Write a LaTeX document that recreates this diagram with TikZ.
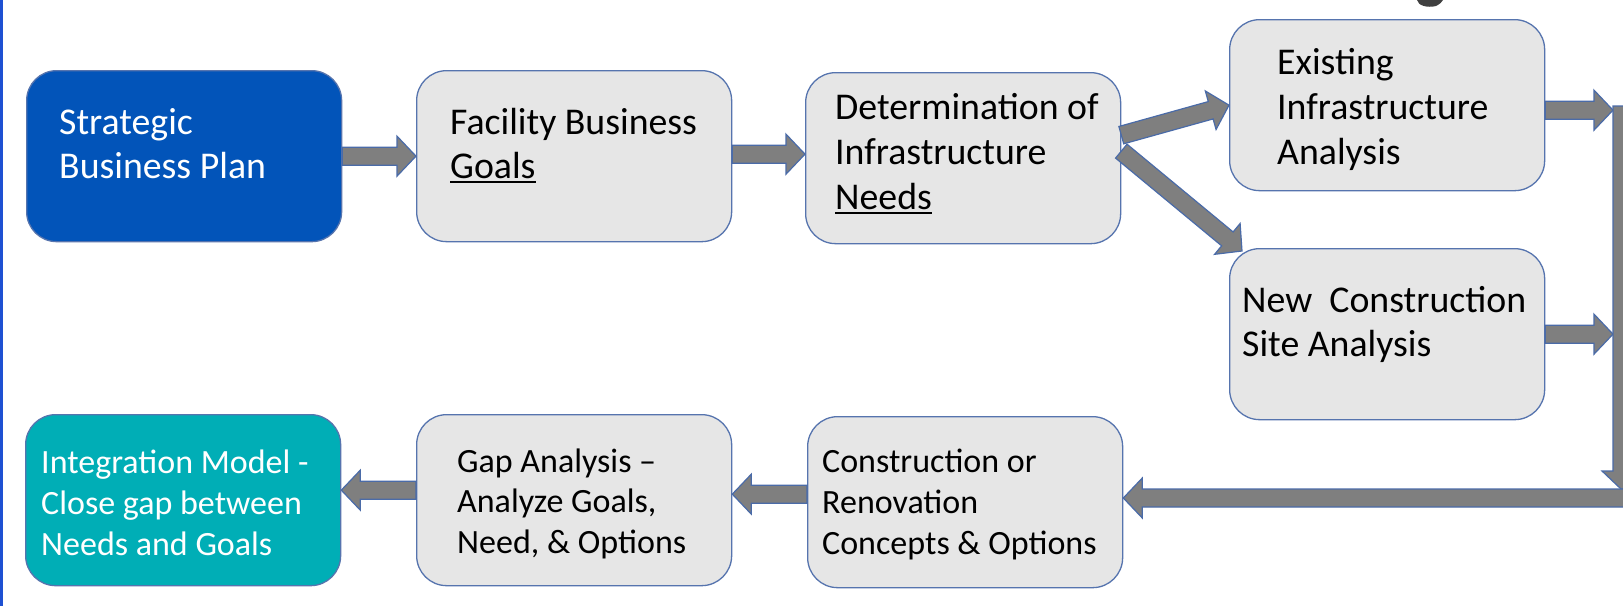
\documentclass[tikz,border=0pt]{standalone}
\usepackage{fontspec}
\setmainfont{Carlito}
\usetikzlibrary{calc}
\definecolor{dblue}{HTML}{0254B9}
\definecolor{tealbox}{HTML}{00AEB6}
\definecolor{boxgray}{HTML}{E6E6E6}
\definecolor{edgeblue}{HTML}{5674AE}
\definecolor{arrgray}{HTML}{7F7F7F}
\definecolor{arredge}{HTML}{4A6BA8}
\definecolor{leftline}{HTML}{1E50D2}
\definecolor{fraggray}{HTML}{404040}
\newcommand\myul[1]{\setbox0\hbox{#1}\rlap{\rule[-5pt]{\wd0}{1.8pt}}\box0}
\newcommand\mlines[2]{\vtop{\baselineskip=#1\lineskiplimit=-100pt\lineskip=0pt #2}}
\newcommand\blockarrow[2]{%
  \coordinate (ba-h) at ($(#2)!19pt!(#1)$);
  \filldraw[barrow] ($(#1)!9pt!90:(#2)$) -- ($(ba-h)!9pt!90:(#2)$) -- ($(ba-h)!20pt!90:(#2)$)
     -- (#2) -- ($(ba-h)!20pt!-90:(#2)$) -- ($(ba-h)!9pt!-90:(#2)$) -- ($(#1)!9pt!-90:(#2)$) -- cycle;}
\begin{document}
\begin{tikzpicture}[x=1pt,y=-1pt,
  box/.style={draw=edgeblue, line width=1.3pt, rounded corners=30pt, minimum width=315pt,
     minimum height=171pt, anchor=north west, inner sep=0pt, fill=boxgray},
  barrow/.style={fill=arrgray, draw=arredge, line width=1.2pt, line join=miter},
  txtbig/.style={anchor=base west, inner sep=0pt, font=\fontsize{37.8}{44}\selectfont},
  txtsmall/.style={anchor=base west, inner sep=0pt, font=\fontsize{34}{41}\selectfont}]
\useasboundingbox (0,0) rectangle (1623,606);
\clip (0,0) rectangle (1623,606);
\fill[white] (0,0) rectangle (1623,606);
\fill[leftline] (0,0) rectangle (3,606);
\fill[fraggray] (1417,0) .. controls (1418,6) and (1428,8) .. (1436,6) .. controls (1440,4) and (1442,2) .. (1443,0) -- cycle;

\node[box, fill=dblue] (box1) at (26,70) {};
\node[box] (box2) at (416,70) {};
\node[box] (box3) at (805,72) {};
\node[box] (box4) at (1229,19) {};
\node[box] (box5) at (1229,248) {};
\node[box, fill=tealbox] (box6) at (25,414) {};
\node[box] (box7) at (416,414) {};
\node[box] (box8) at (807,416) {};

\node[txtbig, text=white] (t1) at (59,134) {\mlines{44pt}{\hbox{Strategic}\hbox{Business Plan}}};
\node[txtbig] (t2) at (450,134) {\mlines{44pt}{\hbox{Facility Business}\hbox{\myul{Goals}}}};
\node[txtbig] (t3) at (835,119) {\mlines{45pt}{\hbox{Determination of}\hbox{Infrastructure}\hbox{\myul{Needs}}}};
\node[txtbig] (t4) at (1277,74) {\mlines{45pt}{\hbox{Existing}\hbox{Infrastructure}\hbox{Analysis}}};
\node[txtbig] (t5) at (1242,312) {\mlines{44pt}{\hbox{New\ \ Construction}\hbox{Site Analysis}}};
\node[txtsmall, text=white] (t6) at (41,473) {\mlines{41pt}{\hbox{Integration Model -}\hbox{Close gap between}\hbox{Needs and Goals}}};
\node[txtsmall] (t7) at (457,472) {\mlines{40.5pt}{\hbox{Gap Analysis –}\hbox{Analyze Goals,}\hbox{Need, \& Options}}};
\node[txtsmall] (t8) at (822,472) {\mlines{41pt}{\hbox{Construction or}\hbox{Renovation}\hbox{Concepts \& Options}}};

\coordinate (barL) at (1613,0);
\coordinate (a2s) at ($(box2.east)+(0,-2)$);
\coordinate (a2e) at (a2s -| box3.west);
\coordinate (a3s) at ($(box3.east)+(0,-23)$);
\coordinate (a4s) at ($(box3.east)+(0,-7)$);
\coordinate (a4e) at ($(box5.north west)+(13,3)$);
\coordinate (a5s) at ($(box4.east)+(0,5)$);
\coordinate (a5e) at (a5s -| barL);
\coordinate (a6s) at (box5.east);
\coordinate (a6e) at (a6s -| barL);
\coordinate (vtop) at (1622,106);
\coordinate (vbot) at (1622,490);
\coordinate (ret) at (1680,498);
\coordinate (retE) at (ret -| box8.east);
\coordinate (a7s) at ($(box8.west)+(0,-8)$);
\coordinate (a7e) at (a7s -| box7.east);
\coordinate (a8s) at ($(box7.west)+(0,-10)$);
\coordinate (a8e) at (a8s -| box6.east);

\blockarrow{box1.east}{box2.west}
\blockarrow{a2s}{a2e}
\blockarrow{a3s}{box4.west}
\blockarrow{a4s}{a4e}
\blockarrow{a5s}{a5e}
\blockarrow{a6s}{a6e}
\blockarrow{vtop}{vbot}
\blockarrow{ret}{retE}
\blockarrow{a7s}{a7e}
\blockarrow{a8s}{a8e}
\end{tikzpicture}
\end{document}
